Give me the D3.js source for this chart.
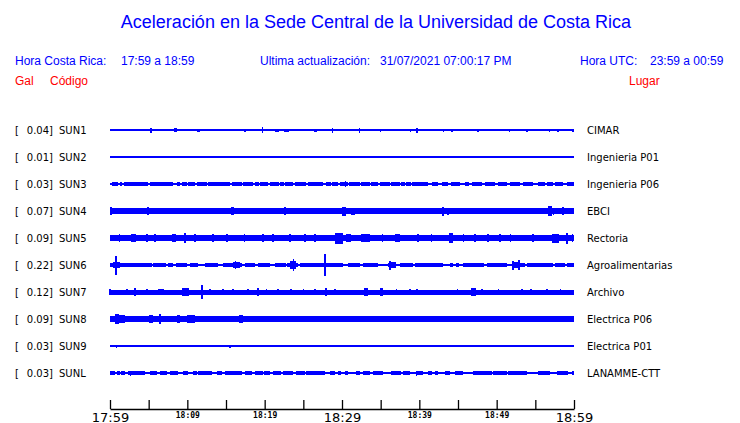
<!DOCTYPE html>
<html>
<head>
<meta charset="utf-8">
<script src="https://cdn.jsdelivr.net/npm/d3@7"></script>
<style>
  body { margin: 0; background: #fff; }
</style>
</head>
<body>
<div class="visData"></div>
<script>
const w = 740;
const h = 423;

// stations, places and peak acceleration (gal)
const stations = ["SUN1", "SUN2", "SUN3", "SUN4", "SUN5", "SUN6", "SUN7", "SUN8", "SUN9", "SUNL"];
const places = ["CIMAR", "Ingenieria P01", "Ingenieria P06", "EBCI", "Rectoria",
  "Agroalimentarias", "Archivo", "Electrica P06", "Electrica P01", "LANAMME-CTT"];
const peaks = ["0.04", "0.01", "0.03", "0.07", "0.09", "0.22", "0.12", "0.09", "0.03", "0.03"];

// background noise level of each trace (fraction of full row amplitude)
const noiseLevel = [0, 0, 0.18, 0.26, 0.3, 0.19, 0.25, 0.28, 0, 0.17];

// quiet stretches [start min, end min] where the noise band drops to the bare line
const gapsSUN3 = [[0, 0.2], [1.0, 1.3], [1.6, 1.8], [4.9, 5.2], [8.1, 8.7], [9.0, 9.3], [10.0, 10.1],
  [11.0, 11.3], [12.5, 12.7], [15.5, 15.8], [17.1, 17.2], [18.5, 18.8], [19.3, 19.4], [20.4, 20.7],
  [21.3, 21.4], [21.9, 22.0], [22.5, 22.6], [23.7, 23.9], [24.4, 24.5], [25.3, 25.6], [27.5, 27.9],
  [28.6, 28.7], [29.5, 29.7], [30.8, 30.9], [32.3, 32.4], [33.6, 33.8], [34.7, 34.9], [36.2, 36.3],
  [37.5, 37.6], [38.1, 38.3], [38.9, 39.0], [39.4, 39.5], [41.1, 41.7], [42.4, 42.9], [43.7, 44.1],
  [45.3, 45.9], [46.4, 46.8], [48.1, 48.5], [49.8, 50.2], [51.4, 51.7], [53.0, 53.4], [54.7, 55.4],
  [56.3, 56.5], [57.3, 57.6], [58.6, 59.1], [59.7, 59.8]];
const gapsSUN6 = [[5.4, 5.6], [7.3, 7.5], [8.1, 8.5], [10.0, 10.3], [11.4, 12.3], [14.0, 14.6],
  [17.1, 17.5], [18.8, 19.1], [20.7, 21.3], [22.7, 22.9], [24.3, 24.6], [30.1, 30.8], [32.3, 32.7],
  [34.7, 36.0], [37.0, 37.5], [39.2, 39.5], [43.1, 44.0], [44.4, 44.8], [45.1, 45.7], [48.3, 48.8],
  [51.4, 52.0], [53.6, 53.9], [57.3, 57.6], [58.9, 59.1]];
const gapsSUNL = [[0.65, 0.9], [1.3, 1.4], [1.9, 2.3], [4.5, 5.2], [6.1, 6.5], [7.4, 7.8], [8.8, 9.4],
  [10.1, 10.7], [11.3, 11.4], [13.2, 13.8], [14.5, 14.9], [17.1, 17.5], [18.4, 18.8], [19.8, 19.9],
  [20.7, 21.1], [22.1, 22.4], [23.7, 24.1], [25.2, 25.4], [27.8, 28.5], [29.1, 29.5], [29.9, 30.4],
  [30.8, 31.8], [32.3, 32.7], [33.6, 34.0], [35.3, 36.4], [37.6, 37.9], [38.8, 39.6], [40.5, 41.1],
  [41.7, 42.0], [42.4, 43.3], [44.0, 44.6], [45.7, 47.0], [49.4, 49.5], [51.4, 51.5], [53.9, 55.4],
  [56.9, 57.8], [59.2, 59.8]];

// bursts [minute, amplitude, duration in min]
const burstsSUN1 = [[0.3, 0.1, 0.15], [0.5, 0.1, 0.1], [0.9, 0.13, 0.25], [5.3, 0.25, 0.25], [5.7, 0.1, 0.1],
  [6.3, 0.1, 0.1], [7.0, 0.1, 0.1], [8.5, 0.2, 0.4], [11.4, 0.15, 0.4], [13.3, 0.1, 0.1], [14.2, 0.1, 0.1],
  [17.5, 0.15, 0.25], [17.8, 0.1, 0.1], [19.7, 0.3, 0.1], [21.6, 0.15, 0.4], [22.8, 0.15, 0.6],
  [24.4, 0.13, 0.4], [26.6, 0.15, 0.4], [27.9, 0.1, 0.1], [28.7, 0.25, 0.1], [30.5, 0.1, 0.1],
  [31.4, 0.1, 0.1], [32.2, 0.25, 0.1], [34.9, 0.15, 0.1], [38.8, 0.15, 0.1], [39.7, 0.25, 0.25],
  [41.1, 0.1, 0.1], [43.1, 0.15, 0.1], [44.2, 0.15, 0.1], [47.6, 0.15, 0.25], [51.6, 0.15, 0.1],
  [53.9, 0.15, 0.25], [55.2, 0.1, 0.1], [56.8, 0.15, 0.1], [57.9, 0.15, 0.1], [59.9, 0.15, 0.2]];
const burstsSUN2 = [];
const burstsSUN3 = [[30.4, 0.28, 0.1], [7.4, 0.22, 0.1], [45.0, 0.22, 0.1], [13.5, 0.22, 0.1], [50.8, 0.22, 0.1]];
const burstsSUN4 = [[0.1, 0.38, 0.2], [1.6, 0.3, 0.15], [2.6, 0.3, 0.15], [4.9, 0.38, 0.25],
  [10.6, 0.33, 0.1], [15.8, 0.38, 0.4], [16.4, 0.3, 0.1], [17.2, 0.3, 0.1], [22.6, 0.38, 0.2],
  [23.1, 0.33, 0.15], [24.1, 0.3, 0.1], [26.9, 0.3, 0.1], [28.1, 0.33, 0.1], [30.3, 0.45, 0.5],
  [31.4, 0.35, 0.5], [43.1, 0.45, 0.3], [43.7, 0.35, 0.15], [55.0, 0.3, 0.1], [55.6, 0.3, 0.1],
  [56.9, 0.48, 0.5], [57.3, 0.35, 0.15], [58.6, 0.38, 0.2]];
const burstsSUN5 = [[3.0, 0.4, 0.6], [4.8, 0.36, 0.2], [5.8, 0.36, 0.2], [8.3, 0.4, 0.5], [9.7, 0.5, 0.15],
  [13.3, 0.4, 0.3], [15.1, 0.36, 0.2], [19.8, 0.36, 0.2], [21.1, 0.36, 0.2], [23.3, 0.36, 0.2],
  [25.2, 0.36, 0.2], [26.5, 0.36, 0.2], [29.6, 0.55, 1.0], [30.8, 0.4, 0.6], [33.0, 0.36, 1.2],
  [37.2, 0.4, 0.6], [39.8, 0.36, 0.2], [41.6, 0.36, 0.2], [44.1, 0.5, 0.4], [45.7, 0.36, 0.2],
  [48.9, 0.36, 0.2], [51.8, 0.36, 0.2], [54.7, 0.36, 0.2], [57.6, 0.45, 1.0], [59.1, 0.55, 0.15],
  [59.8, 0.4, 0.2], [1.2, 0.36, 0.15], [11.0, 0.36, 0.15], [17.4, 0.36, 0.15], [35.2, 0.36, 0.15],
  [47.2, 0.36, 0.15], [50.4, 0.36, 0.15]];
const burstsSUN6 = [[0.8, 0.28, 0.9], [3.4, 0.24, 0.2], [4.8, 0.24, 0.2], [16.3, 0.28, 0.9],
  [23.7, 0.38, 0.8], [36.5, 0.28, 0.9], [52.5, 0.28, 1.0], [9.2, 0.24, 0.15], [26.0, 0.24, 0.15],
  [41.0, 0.24, 0.15], [55.5, 0.24, 0.15]];
const burstsSUN7 = [[0.0, 0.33, 0.15], [2.2, 0.3, 0.15], [3.2, 0.38, 0.3], [4.8, 0.33, 0.2], [6.6, 0.3, 0.8],
  [9.8, 0.38, 0.9], [12.9, 0.33, 0.15], [14.6, 0.3, 0.15], [15.9, 0.33, 0.15], [17.8, 0.33, 0.15],
  [19.1, 0.38, 0.3], [20.2, 0.33, 0.15], [21.7, 0.3, 0.15], [23.4, 0.33, 0.15], [25.0, 0.3, 0.15],
  [26.5, 0.33, 0.15], [27.9, 0.38, 0.3], [29.1, 0.33, 0.2], [33.1, 0.38, 0.4], [35.1, 0.38, 0.4],
  [37.0, 0.3, 0.15], [38.8, 0.33, 0.15], [39.7, 0.33, 0.15], [44.9, 0.33, 0.15], [47.0, 0.38, 0.6],
  [48.1, 0.33, 0.15], [50.2, 0.3, 0.15], [53.3, 0.33, 0.3], [54.4, 0.33, 0.3], [56.5, 0.33, 0.15],
  [58.2, 0.3, 0.15]];
const burstsSUN8 = [[0.9, 0.5, 0.6], [1.5, 0.42, 1.0], [2.9, 0.34, 1.0], [5.3, 0.38, 0.4], [6.5, 0.47, 0.2],
  [7.4, 0.34, 0.2], [8.9, 0.38, 0.4], [10.5, 0.38, 1.0], [11.6, 0.34, 0.15], [12.3, 0.34, 0.15],
  [14.3, 0.34, 0.6], [15.5, 0.32, 0.15], [16.9, 0.38, 0.5], [18.8, 0.32, 0.15], [21.3, 0.34, 0.15],
  [23.9, 0.32, 0.15], [26.6, 0.34, 0.6], [28.3, 0.34, 0.15], [30.4, 0.32, 0.15], [32.6, 0.34, 0.6],
  [34.4, 0.32, 0.15], [35.3, 0.32, 0.15], [38.0, 0.34, 0.4], [39.6, 0.34, 1.2], [40.4, 0.34, 0.15],
  [41.8, 0.32, 0.15], [43.2, 0.32, 0.15], [43.8, 0.32, 0.15], [44.6, 0.34, 0.15], [45.2, 0.32, 0.15],
  [49.2, 0.32, 0.15], [53.6, 0.32, 0.15], [58.8, 0.32, 0.15]];
const burstsSUN9 = [[0.8, 0.15, 0.1], [15.5, 0.15, 0.25], [16.4, 0.1, 0.1], [40.0, 0.1, 0.1], [44.5, 0.1, 0.1]];
const burstsSUNL = [[2.6, 0.25, 0.1], [6.9, 0.22, 0.1], [21.3, 0.22, 0.1], [39.6, 0.25, 0.1],
  [12.0, 0.22, 0.1], [33.0, 0.22, 0.1], [48.0, 0.22, 0.1]];

// tall single peaks [minute, amplitude]
const peaksSUN6 = [[0.8, 0.95], [16.2, 0.4], [23.7, 0.6], [27.8, 1.1], [36.2, 0.45], [52.1, 0.45], [52.9, 0.5]];
const peaksSUN7 = [[11.9, 0.7]];

// time axis
const tickMinutes = d3.range(0, 61, 5);
const tickLabels = ["17:59", "18:09", "18:19", "18:29", "18:39", "18:49", "18:59"];
const bigLabels = ["17:59", "18:29", "18:59"];

const gapsBy = { SUN3: gapsSUN3, SUN6: gapsSUN6, SUNL: gapsSUNL };
const burstsBy = { SUN1: burstsSUN1, SUN2: burstsSUN2, SUN3: burstsSUN3, SUN4: burstsSUN4,
  SUN5: burstsSUN5, SUN6: burstsSUN6, SUN7: burstsSUN7, SUN8: burstsSUN8, SUN9: burstsSUN9, SUNL: burstsSUNL };
const peaksBy = { SUN6: peaksSUN6, SUN7: peaksSUN7 };

const blue = "#0000ff";

const svg = d3
  .select(".visData")
  .append("svg")
  .attr("width", w)
  .attr("height", h)
  .style("font-family", "'Liberation Sans', Arial, sans-serif");

//scales
const xScale = d3.scaleLinear().domain([0, 60]).range([110, 574]);
const rowScale = d3.scalePoint().domain(stations).range([130, 373]);
const ampScale = d3.scaleLinear().domain([-1, 1]).range([10, -10]);

//header
svg.append("text")
  .attr("x", 376).attr("y", 28)
  .attr("text-anchor", "middle")
  .style("font-size", "18px")
  .attr("fill", blue)
  .text("Aceleración en la Sede Central de la Universidad de Costa Rica");

const header = [
  { x: 15, t: "Hora Costa Rica:" }, { x: 121, t: "17:59 a 18:59" },
  { x: 260, t: "Ultima actualización:" }, { x: 380, t: "31/07/2021 07:00:17 PM" },
  { x: 580, t: "Hora UTC:" }, { x: 650, t: "23:59 a 00:59" }
];
svg.selectAll(".head")
  .data(header).enter().append("text")
  .attr("class", "head")
  .attr("x", (d) => d.x).attr("y", 65)
  .style("font-size", "12px")
  .attr("fill", blue)
  .text((d) => d.t);

const sub = [{ x: 15, t: "Gal" }, { x: 50, t: "Código" }, { x: 629, t: "Lugar" }];
svg.selectAll(".sub")
  .data(sub).enter().append("text")
  .attr("class", "sub")
  .attr("x", (d) => d.x).attr("y", 85)
  .style("font-size", "12px")
  .attr("fill", "#ff0000")
  .text((d) => d.t);

//rows
const rows = svg.selectAll(".row")
  .data(stations).enter().append("g")
  .attr("class", "row")
  .attr("transform", (d) => `translate(0,${rowScale(d)})`);

const labelFont = "'DejaVu Sans', sans-serif";
rows.append("text").attr("x", 15).attr("y", 4)
  .style("font-family", labelFont).style("font-size", "10px").text("[");
rows.append("text").attr("x", 53).attr("y", 4).attr("text-anchor", "end")
  .style("font-family", labelFont).style("font-size", "10px")
  .text((d, i) => peaks[i] + "]");
rows.append("text").attr("x", 59).attr("y", 4)
  .style("font-family", labelFont).style("font-size", "10px").text((d) => d);
rows.append("text").attr("x", 587).attr("y", 4)
  .style("font-family", labelFont).style("font-size", "10px")
  .text((d, i) => places[i]);

// noise band split by the quiet stretches
function bandSegments(code, i) {
  if (noiseLevel[i] === 0) return [];
  const g = gapsBy[code] || [];
  const segs = [];
  let start = 0;
  g.forEach((q) => {
    if (q[0] > start) segs.push([start, q[0], noiseLevel[i]]);
    start = q[1];
  });
  if (start < 60) segs.push([start, 60, noiseLevel[i]]);
  return segs;
}

rows.each(function (code, i) {
  const g = d3.select(this).style("shape-rendering", "crispEdges");

  g.selectAll(".band")
    .data(bandSegments(code, i)).enter().append("rect")
    .attr("class", "band")
    .attr("x", (d) => xScale(d[0]))
    .attr("width", (d) => xScale(d[1]) - xScale(d[0]))
    .attr("y", (d) => ampScale(d[2]))
    .attr("height", (d) => ampScale(-d[2]) - ampScale(d[2]))
    .attr("fill", blue);

  g.selectAll(".burst")
    .data(burstsBy[code]).enter().append("rect")
    .attr("class", "burst")
    .attr("x", (d) => xScale(d[0] - d[2] / 2))
    .attr("width", (d) => Math.max(1.5, xScale(d[2]) - xScale(0)))
    .attr("y", (d) => ampScale(d[1]))
    .attr("height", (d) => ampScale(-d[1]) - ampScale(d[1]))
    .attr("fill", blue);

  g.selectAll(".peak")
    .data(peaksBy[code] || []).enter().append("line")
    .attr("class", "peak")
    .attr("x1", (d) => xScale(d[0])).attr("x2", (d) => xScale(d[0]))
    .attr("y1", (d) => ampScale(d[1])).attr("y2", (d) => ampScale(-d[1]))
    .attr("stroke", blue).attr("stroke-width", 1.5);

  g.append("line")
    .attr("x1", xScale(0)).attr("x2", xScale(60))
    .attr("y1", 0).attr("y2", 0)
    .attr("stroke", blue).attr("stroke-width", 1.5);
});

//axis
const xAxis = d3.axisBottom(xScale)
  .tickValues(tickMinutes)
  .tickSizeInner(-9)
  .tickSizeOuter(0)
  .tickPadding(3)
  .tickFormat((m) => (m % 10 === 0 ? tickLabels[m / 10] : ""));

const axisG = svg.append("g")
  .attr("transform", "translate(0,409)")
  .call(xAxis);

axisG.select(".domain").attr("stroke", "#000").attr("stroke-width", 1.3);
axisG.selectAll(".tick line").attr("stroke", "#000").attr("stroke-width", 1.3);
axisG.selectAll(".tick text")
  .attr("fill", "#000")
  .attr("dy", null)
  .attr("y", (m) => (bigLabels.includes(tickLabels[m / 10]) ? 12.5 : 9))
  .style("font-family", (m) => (bigLabels.includes(tickLabels[m / 10]) ? labelFont : "'DejaVu Sans Mono', monospace"))
  .style("font-size", (m) => (bigLabels.includes(tickLabels[m / 10]) ? "13px" : "8px"))
  .style("font-weight", (m) => (bigLabels.includes(tickLabels[m / 10]) ? "normal" : "bold"));
</script>
</body>
</html>
